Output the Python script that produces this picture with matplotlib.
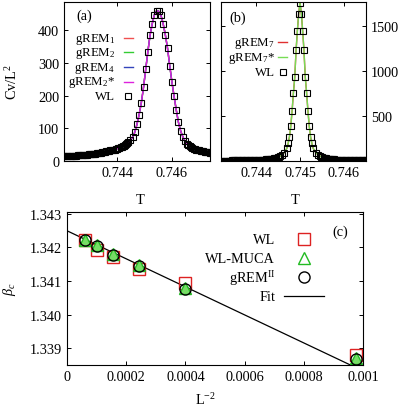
import matplotlib
matplotlib.use("Agg")
import matplotlib.pyplot as plt
import numpy as np

plt.rcParams["font.family"] = ["Liberation Serif", "DejaVu Serif"]
plt.rcParams["mathtext.fontset"] = "custom"
plt.rcParams["mathtext.rm"] = "Liberation Serif"
plt.rcParams["mathtext.it"] = "Liberation Serif:italic"
plt.rcParams["font.size"] = 10.3
plt.rcParams["xtick.direction"] = "in"
plt.rcParams["ytick.direction"] = "in"

# panel (a): specific heat curves, WL and gREM agree
a_T = [0.74200, 0.74205, 0.74210, 0.74215, 0.74220, 0.74225, 0.74230, 0.74235, 0.74240, 0.74245,
       0.74250, 0.74255, 0.74260, 0.74265, 0.74270, 0.74275, 0.74280, 0.74285, 0.74290, 0.74295,
       0.74300, 0.74305, 0.74310, 0.74315, 0.74320, 0.74325, 0.74330, 0.74335, 0.74340, 0.74345,
       0.74350, 0.74355, 0.74360, 0.74365, 0.74370, 0.74375, 0.74380, 0.74385, 0.74390, 0.74395,
       0.74400, 0.74404, 0.74408, 0.74412, 0.74416, 0.74420, 0.74424, 0.74428, 0.74432, 0.74436,
       0.74440, 0.74448, 0.74456, 0.74464, 0.74472, 0.74480, 0.74488, 0.74496, 0.74504, 0.74512,
       0.74520, 0.74528, 0.74536, 0.74544, 0.74552, 0.74560, 0.74568, 0.74576, 0.74584, 0.74592,
       0.74600, 0.74608, 0.74616, 0.74624, 0.74632, 0.74640, 0.74648, 0.74656, 0.74660, 0.74665,
       0.74670, 0.74675, 0.74680, 0.74685, 0.74690, 0.74695, 0.74700, 0.74705, 0.74710, 0.74715,
       0.74720, 0.74725, 0.74730, 0.74735, 0.74740, 0.74745]
a_cv = [14, 14, 14, 14.5, 15, 15, 15.5, 15.5, 16, 16,
        16.5, 17, 17, 17.5, 18, 18, 18.5, 19, 19.5, 20,
        20.5, 21, 21.5, 22, 22.5, 23, 24, 24.5, 25, 26,
        27, 28, 29, 30, 31, 32, 33, 34, 35, 36.5,
        38, 39, 40, 41.5, 43, 45, 47, 49, 51, 54,
        57, 63, 72, 88, 112, 142, 178, 225, 280, 335,
        385, 420, 448, 460, 458, 446, 420, 386, 345, 292,
        242, 198, 156, 118, 92, 74, 60, 51, 48, 45,
        42, 40, 38, 36, 34, 33, 32, 31, 30, 29,
        28, 27, 26.5, 26, 25, 24.5]
a_grem = a_cv  # gREM_1, gREM_2, gREM_4, gREM_2* lie on the WL data

# panel (b)
b_T = [0.74320, 0.74323, 0.74326, 0.74329, 0.74332, 0.74335, 0.74338, 0.74341, 0.74344, 0.74347,
       0.74350, 0.74353, 0.74356, 0.74359, 0.74362, 0.74365, 0.74368, 0.74371, 0.74374, 0.74377,
       0.74380, 0.74383, 0.74386, 0.74389, 0.74392, 0.74395, 0.74398, 0.74401, 0.74404, 0.74407,
       0.74410, 0.74413, 0.74416, 0.74419, 0.74422, 0.74425, 0.74428, 0.74431, 0.74434, 0.74437,
       0.74440, 0.74443, 0.74446, 0.74449, 0.74452, 0.74455, 0.74458, 0.74464, 0.74470, 0.74473,
       0.74476, 0.74479, 0.74482, 0.74485, 0.74488, 0.74491, 0.74494, 0.74497, 0.74500, 0.74503,
       0.74506, 0.74509, 0.74512, 0.74515, 0.74518, 0.74521, 0.74524, 0.74527, 0.74530, 0.74536,
       0.74542, 0.74545, 0.74548, 0.74551, 0.74554, 0.74557, 0.74560, 0.74563, 0.74566, 0.74569,
       0.74572, 0.74575, 0.74578, 0.74581, 0.74584, 0.74587, 0.74590, 0.74593, 0.74596, 0.74599,
       0.74602, 0.74605, 0.74608, 0.74611, 0.74614, 0.74617, 0.74620, 0.74623, 0.74626, 0.74629,
       0.74632, 0.74635, 0.74638, 0.74641, 0.74644, 0.74647, 0.74650, 0.74653]
b_cv = [4, 4, 4, 4.5, 4.5, 5, 5, 5, 5.5, 5.5,
        6, 6, 6, 6.5, 6.5, 7, 7, 7.5, 7.5, 8,
        8, 8.5, 9, 9, 9.5, 10, 10.5, 11, 11.5, 12,
        13, 14, 15, 16, 17, 18.5, 20, 22, 24, 26,
        29, 32, 36, 41, 47, 55, 65, 92, 140, 195,
        270, 390, 560, 760, 930, 1230, 1450, 1640, 1760, 1640,
        1450, 1230, 930, 760, 560, 390, 270, 195, 140, 92,
        65, 55, 47, 41, 36, 32, 29, 26, 24, 22,
        20, 18.5, 17, 16, 15, 14, 13, 12, 11.5, 11,
        10.5, 10, 9.5, 9, 9, 8.5, 8, 8, 7.5, 7.5,
        7, 7, 6.5, 6.5, 6, 6, 6, 5.5]
b_grem = b_cv

# panel (c): beta_c vs L^-2
L = np.array([128, 100, 80, 64, 50, 32])
beta_wl = [1.34220, 1.34193, 1.34171, 1.34135, 1.34093, 1.33880]
beta_muca = [1.34222, 1.34206, 1.34180, 1.34146, 1.34078, 1.33870]
beta_grem = [1.34220, 1.34205, 1.34178, 1.34143, 1.34077, 1.33868]
beta_inf = 1.34249
fit_slope = -4.165

fig = plt.figure(figsize=(4.08, 4.10), dpi=100)
ax_a = fig.add_axes([0.157, 0.605, 0.358, 0.388])
ax_b = fig.add_axes([0.5417, 0.605, 0.355, 0.388])
ax_c = fig.add_axes([0.164, 0.107, 0.726, 0.373])

sq = dict(ls="none", marker="s", ms=4.3, mfc="none", mec="black", mew=0.8)


def legend_rows(ax, rows, x_text, x0, x1, size):
    # gnuplot-style key: right-aligned text, sample to the right
    for y, label, kw in rows:
        ax.text(x_text, y, label, transform=ax.transAxes, ha="right", va="center", fontsize=size)
        if "marker" in kw:
            ax.plot([(x0 + x1) / 2], [y], transform=ax.transAxes, clip_on=False, **kw)
        else:
            ax.plot([x0, x1], [y, y], transform=ax.transAxes, clip_on=False, **kw)


# (a)
for c in ["#f05050", "#33cc33", "#3344bb", "#dd22dd"]:
    ax_a.plot(a_T, a_grem, color=c, lw=1.0)
ax_a.plot(a_T, a_cv, **sq)
ax_a.set_xlim(0.74205, 0.7474)
ax_a.set_ylim(0, 487)
ax_a.set_xticks([0.744, 0.746])
ax_a.set_xticklabels(["0.744", "0.746"])
ax_a.set_yticks([0, 100, 200, 300, 400])
ax_a.tick_params(top=True, right=True, length=3, width=0.7)
ax_a.set_xlabel("T")
ax_a.xaxis.set_label_coords(0.52, -0.2)
ax_a.set_ylabel("Cv/L$^2$")
ax_a.yaxis.set_label_coords(-0.3, 0.5)
ax_a.text(0.137, 0.918, "(a)", transform=ax_a.transAxes, ha="center", va="center")
legend_rows(ax_a, [
    (0.772, "gREM$_1$", dict(color="#f05050", lw=1.0)),
    (0.684, "gREM$_2$", dict(color="#33cc33", lw=1.0)),
    (0.589, "gREM$_4$", dict(color="#3344bb", lw=1.0)),
    (0.499, "gREM$_2$*", dict(color="#dd22dd", lw=1.0)),
    (0.411, "WL", sq),
], 0.35, 0.41, 0.47, 9.3)

# (b)
ax_b.plot(b_T, b_grem, color="#e03030", lw=1.0)
ax_b.plot(b_T, b_grem, color="#77dd55", lw=1.0)
ax_b.plot(b_T, b_cv, **sq)
ax_b.set_xlim(0.7432, 0.7465)
ax_b.set_ylim(0, 1770)
ax_b.set_xticks([0.744, 0.745, 0.746])
ax_b.set_xticklabels(["0.744", "0.745", "0.746"])
ax_b.set_yticks([500, 1000, 1500])
ax_b.yaxis.tick_right()
ax_b.tick_params(top=True, left=True, right=True, labelleft=False, labelright=True,
                 length=3, width=0.7)
ax_b.set_xlabel("T")
ax_b.xaxis.set_label_coords(0.51, -0.2)
ax_b.text(0.117, 0.904, "(b)", transform=ax_b.transAxes, ha="center", va="center")
legend_rows(ax_b, [
    (0.747, "gREM$_7$", dict(color="#e03030", lw=1.0)),
    (0.652, "gREM$_7$*", dict(color="#77dd55", lw=1.0)),
    (0.562, "WL", sq),
], 0.372, 0.395, 0.457, 9.3)

# (c)
x = 1.0 / L**2
fit_x = np.array([0.0, 0.001])
ax_c.plot(fit_x, beta_inf + fit_slope * fit_x, color="black", lw=0.9)
wl_kw = dict(ls="none", marker="s", ms=8, mfc="none", mec="#dd2222", mew=1.0)
muca_kw = dict(ls="none", marker="^", ms=8, mfc="#77dd66", mec="#22bb22", mew=1.0)
grem_kw = dict(ls="none", marker="o", ms=8, mfc="none", mec="black", mew=1.0)
ax_c.plot(x, beta_wl, clip_on=False, **wl_kw)
ax_c.plot(x, beta_muca, clip_on=False, **muca_kw)
ax_c.plot(x, beta_grem, clip_on=False, **grem_kw)
ax_c.set_xlim(0, 0.001)
ax_c.set_ylim(1.3385, 1.34304)
ax_c.set_xticks([0, 0.0002, 0.0004, 0.0006, 0.0008, 0.001])
ax_c.set_xticklabels(["0", "0.0002", "0.0004", "0.0006", "0.0008", "0.001"])
ax_c.set_yticks([1.339, 1.340, 1.341, 1.342, 1.343])
ax_c.set_yticklabels(["1.339", "1.340", "1.341", "1.342", "1.343"])
ax_c.tick_params(top=True, right=True, length=3, width=0.7)
ax_c.set_xlabel("L$^{-2}$")
ax_c.xaxis.set_label_coords(0.466, -0.17)
ax_c.set_ylabel(r"$\beta_c$")
ax_c.yaxis.set_label_coords(-0.166, 0.5)
ax_c.text(0.922, 0.876, "(c)", transform=ax_c.transAxes, ha="center", va="center")
muca_leg = dict(muca_kw, mfc="none")
legend_rows(ax_c, [
    (0.824, "WL", wl_kw),
    (0.699, "WL-MUCA", muca_leg),
    (0.575, "gREM$^{\\rm II}$", grem_kw),
    (0.451, "Fit", dict(color="black", lw=0.9)),
], 0.703, 0.733, 0.868, 10.3)

for ax in (ax_a, ax_b, ax_c):
    for s in ax.spines.values():
        s.set_linewidth(0.8)

fig.savefig("out.png", dpi=100)
